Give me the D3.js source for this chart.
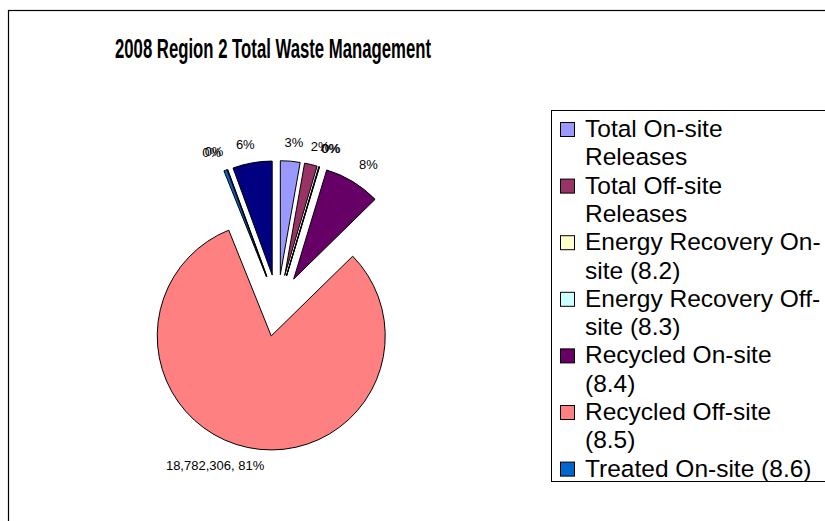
<!DOCTYPE html>
<html>
<head>
<meta charset="utf-8">
<script src="https://cdnjs.cloudflare.com/ajax/libs/d3/7.8.5/d3.min.js"></script>
<style>
  body { margin: 0; background: #fff; }
  svg { display: block; font-family: Arial, "Liberation Sans", sans-serif; }
</style>
</head>
<body>
<script>
var title = "2008 Region 2 Total Waste Management";
var categories = ["Total On-site Releases", "Total Off-site Releases", "Energy Recovery On-site (8.2)",
  "Energy Recovery Off-site (8.3)", "Recycled On-site (8.4)", "Recycled Off-site (8.5)",
  "Treated On-site (8.6)", "Treated Off-site (8.7)", "Other Waste Management"];
var values = [645000, 415000, 12000, 11000, 1845000, 18782306, 104000, 12000, 1290000];
var colors = ["#9999ff", "#993366", "#ffffcc", "#ccffff", "#660066", "#ff8080", "#0066cc", "#ccccff", "#000080"];
// slices whose label also shows the amount
var valueLabels = ["Recycled Off-site (8.5)"];

var width = 825, height = 521;
var cx = 277.6, cy = 305.6, radius = 114, explode = 31;

var svg = d3.select("body").append("svg")
  .attr("width", width)
  .attr("height", height);

// chart area frame (runs off the picture on the right and bottom)
svg.append("rect")
  .attr("x", 8.5).attr("y", 10.5)
  .attr("width", 900).attr("height", 600)
  .attr("fill", "#fff").attr("stroke", "#000").attr("stroke-width", 1.2);

svg.append("text")
  .attr("x", 273).attr("y", 58)
  .attr("text-anchor", "middle")
  .attr("font-size", 27).attr("font-weight", "bold")
  .attr("textLength", 316).attr("lengthAdjust", "spacingAndGlyphs")
  .text(title);

var data = categories.map(function(c, i) { return {name: c, value: values[i], color: colors[i]}; });
var total = d3.sum(values);

var pie = d3.pie().sort(null).value(function(d) { return d.value; });
var arc = d3.arc().innerRadius(0).outerRadius(radius);
var slices = pie(data);

function mid(d) { return (d.startAngle + d.endAngle) / 2; }
function origin(d) {
  var a = mid(d);
  return [cx + explode * Math.sin(a), cy - explode * Math.cos(a)];
}

svg.append("g").selectAll("path")
  .data(slices)
  .enter().append("path")
  .attr("transform", function(d) { return "translate(" + origin(d) + ")"; })
  .attr("d", arc)
  .attr("fill", function(d) { return d.data.color; })
  .attr("stroke", "#000")
  .attr("stroke-width", 1)
  .attr("stroke-linejoin", "miter");

var pct = d3.format(".0%"), num = d3.format(",");
var labelSize = 13;

var labels = svg.append("g").selectAll("text")
  .data(slices)
  .enter().append("text")
  .attr("font-size", labelSize)
  .attr("fill", "#000")
  .attr("text-anchor", "middle")
  .attr("dy", "0.35em")
  .text(function(d) {
    var p = pct(d.data.value / total);
    return valueLabels.indexOf(d.data.name) >= 0 ? num(d.data.value) + ", " + p : p;
  });

// outside-end labels: the label box sits just past the arc, leaning the way the slice points
labels.each(function(d) {
  var a = mid(d), o = origin(d);
  var w = this.getComputedTextLength(), h = labelSize;
  var px = o[0] + (radius + 12) * Math.sin(a);
  var py = o[1] - (radius + 12) * Math.cos(a);
  var sx = Math.max(-1, Math.min(1, 3 * Math.sin(a)));
  var sy = Math.cos(a) >= 0 ? -1 : 1;
  d3.select(this)
    .attr("x", px + sx * w / 2)
    .attr("y", py + sy * h / 2);
});

// legend
var lx = 551.5, ly = 110.5, lw = 300, lh = 371;
var legendSize = 24.5, lineStep = 28.3, maxLine = 239;

svg.append("clipPath").attr("id", "legend-clip")
  .append("rect").attr("x", lx).attr("y", ly).attr("width", lw).attr("height", lh);

svg.append("rect")
  .attr("x", lx).attr("y", ly).attr("width", lw).attr("height", lh)
  .attr("fill", "#fff").attr("stroke", "#000").attr("stroke-width", 1);

var legend = svg.append("g").attr("clip-path", "url(#legend-clip)");

var probe = svg.append("text").attr("font-size", legendSize).attr("visibility", "hidden");
function measure(s) { probe.text(s); return probe.node().getComputedTextLength(); }
function wrap(s) {
  var parts = s.split(/(?<=[ -])/), lines = [], line = "";
  parts.forEach(function(p) {
    var test = line + p;
    if (line && measure(test.trim()) > maxLine) { lines.push(line.trim()); line = p; }
    else line = test;
  });
  lines.push(line.trim());
  return lines;
}

// entries that no longer fit in the box are left out, as the legend box cuts them
var row = 0;
data.forEach(function(d) {
  var lines = wrap(d.name);
  var base = ly + 26.5 + row * lineStep;
  row += lines.length;
  if (base > ly + lh - 4) return;
  legend.append("rect")
    .attr("x", 560.5).attr("y", base - 14.5)
    .attr("width", 14).attr("height", 14)
    .attr("fill", d.color).attr("stroke", "#000").attr("stroke-width", 1);
  var t = legend.append("text")
    .attr("font-size", legendSize)
    .attr("fill", "#000");
  lines.forEach(function(l, j) {
    if (base + j * lineStep > ly + lh - 4) return;
    t.append("tspan").attr("x", 585).attr("y", base + j * lineStep).text(l);
  });
});
probe.remove();
</script>
</body>
</html>
